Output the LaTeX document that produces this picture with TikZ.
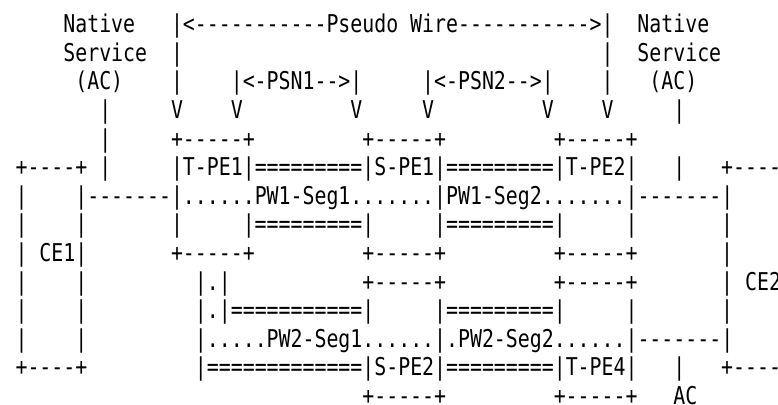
\documentclass[tikz,border=0pt]{standalone}
\usepackage{fontspec}
\setmonofont{DejaVu Sans Mono}[FakeStretch=0.811, Ligatures=TeXOff]

\begin{document}
\begin{tikzpicture}[
    x=11.96pt, y=-28.6pt,
    % Styles
    ascii/.style={font=\ttfamily\fontsize{24.5}{29}\selectfont, anchor=base west, inner sep=0pt, outer sep=0pt, text=black}
]

\useasboundingbox (-0.2993,-0.1451) rectangle (64.75,13.981);

% ==================== HEADER ====================
\node[ascii] (native_l) at (5,1) {Native};
\node[ascii] (pw) at (14,1) {|<-----------Pseudo Wire----------->|};
\node[ascii] (native_r) at (53,1) {Native};

\node[ascii] (service_l) at (5,2) {Service};
\node[ascii] (pw_l2) at (14,2) {|};
\node[ascii] (pw_r2) at (50,2) {|};
\node[ascii] (service_r) at (53,2) {Service};

\node[ascii] (ac_l) at (6,3) {(AC)};
\node[ascii] (pw_l3) at (14,3) {|};
\node[ascii] (psn1) at (19,3) {|<-PSN1-->|};
\node[ascii] (psn2) at (35,3) {|<-PSN2-->|};
\node[ascii] (pw_r3) at (50,3) {|};
\node[ascii] (ac_r) at (54,3) {(AC)};

\node[ascii] (ac_l4) at (8,4) {|};
\node[ascii] (v1) at (14,4) {V};
\node[ascii] (v2) at (19,4) {V};
\node[ascii] (v3) at (29,4) {V};
\node[ascii] (v4) at (35,4) {V};
\node[ascii] (v5) at (45,4) {V};
\node[ascii] (v6) at (50,4) {V};
\node[ascii] (ac_r4) at (56,4) {|};

% ==================== PW1 ====================
\node[ascii] (ac_l5) at (8,5) {|};
\node[ascii] (tpe1_top) at (14,5) {+-----+};
\node[ascii] (spe1_top) at (30,5) {+-----+};
\node[ascii] (tpe2_top) at (46,5) {+-----+};

\node[ascii] (ce1_top) at (1,6) {+----+ |};
\node[ascii] (pe_row1) at (14,6) {|T-PE1|=========|S-PE1|=========|T-PE2|};
\node[ascii] (ac_r6) at (56,6) {|};
\node[ascii] (ce2_top) at (60,6) {+----};

\node[ascii] (ce1_w7) at (1,7) {|};
\node[ascii] (pw1) at (6,7) {|-------|......PW1-Seg1.......|PW1-Seg2.......|-------|};

\node[ascii] (ce1_w8a) at (1,8) {|};
\node[ascii] (ce1_w8b) at (6,8) {|};
\node[ascii] (tpe1_w8) at (14,8) {|};
\node[ascii] (psn1_low) at (20,8) {|=========|};
\node[ascii] (psn2_low) at (36,8) {|=========|};
\node[ascii] (tpe2_w8) at (52,8) {|};
\node[ascii] (ce2_w8) at (60,8) {|};

\node[ascii] (ce1) at (1,9) {| CE1|};
\node[ascii] (tpe1_bot) at (14,9) {+-----+};
\node[ascii] (spe1_bot) at (30,9) {+-----+};
\node[ascii] (tpe2_bot) at (46,9) {+-----+};
\node[ascii] (ce2_w9) at (60,9) {|};

% ==================== PW2 ====================
\node[ascii] (ce1_w10a) at (1,10) {|};
\node[ascii] (ce1_w10b) at (6,10) {|};
\node[ascii] (pw2_in10) at (16,10) {|.|};
\node[ascii] (spe2_top) at (30,10) {+-----+};
\node[ascii] (tpe4_top) at (46,10) {+-----+};
\node[ascii] (ce2) at (60,10) {| CE2};

\node[ascii] (ce1_w11a) at (1,11) {|};
\node[ascii] (ce1_w11b) at (6,11) {|};
\node[ascii] (psn1_up) at (16,11) {|.|===========|};
\node[ascii] (psn2_up) at (36,11) {|=========|};
\node[ascii] (tpe4_w11) at (52,11) {|};
\node[ascii] (ce2_w11) at (60,11) {|};

\node[ascii] (ce1_w12a) at (1,12) {|};
\node[ascii] (ce1_w12b) at (6,12) {|};
\node[ascii] (pw2) at (16,12) {|.....PW2-Seg1......|.PW2-Seg2......|-------|};

\node[ascii] (ce1_bot) at (1,13) {+----+};
\node[ascii] (pe_row2) at (16,13) {|=============|S-PE2|=========|T-PE4|};
\node[ascii] (ac_r13) at (56,13) {|};
\node[ascii] (ce2_bot) at (60,13) {+----};

\node[ascii] (spe2_bot) at (30,14) {+-----+};
\node[ascii] (tpe4_bot) at (46,14) {+-----+};
\node[ascii] (ac_b) at (56,14) {AC};

\end{tikzpicture}
\end{document}
